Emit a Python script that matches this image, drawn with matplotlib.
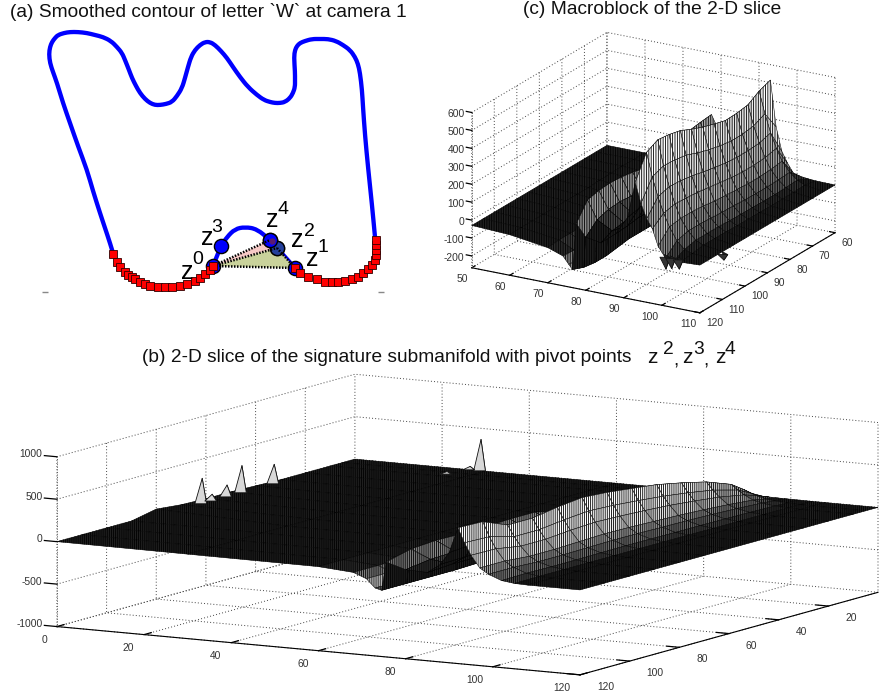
import matplotlib
matplotlib.use("Agg")
import matplotlib.pyplot as plt
import numpy as np
from matplotlib.path import Path as MplPath
from matplotlib.patches import PathPatch
from mpl_toolkits.mplot3d.art3d import Poly3DCollection

FIG_W, FIG_H = 892, 694
plt.rcParams["font.family"] = ["Liberation Sans", "DejaVu Sans"]
plt.rcParams["axes.unicode_minus"] = False
plt.rcParams["hatch.linewidth"] = 0.6
plt.rcParams["hatch.color"] = "#000000"

# panel (a): contour read in reference pixels
contour_x = [113, 110, 105, 100, 93, 87, 78, 70, 63, 57, 53, 50, 49, 50, 52, 55, 58, 64, 70, 78, 87, 95, 103, 111, 117, 122, 125, 129, 132, 136, 140, 145, 150, 155, 160, 166, 172, 177, 182, 185, 188, 191, 195, 200, 205, 210, 215, 221, 227, 233, 240, 248, 257, 264, 270, 275, 280, 285, 290, 293, 295, 295, 295, 294, 295, 297, 300, 305, 312, 320, 328, 336, 343, 350, 355, 358, 360, 362, 363, 365, 368, 372, 375]
contour_y = [253, 243, 228, 213, 191, 170, 146, 123, 103, 83, 72, 63, 54, 47, 42, 38, 35, 33, 32, 32, 33, 35, 37, 41, 47, 53, 60, 70, 78, 86, 93, 99, 103, 105, 105, 104, 102, 96, 88, 78, 67, 57, 50, 45, 42, 42, 45, 51, 58, 67, 77, 87, 95, 100, 102, 103, 103, 102, 98, 93, 87, 80, 72, 57, 50, 46, 43, 41, 39, 39, 39, 41, 45, 50, 57, 64, 73, 90, 107, 135, 167, 205, 237]
arc_x = [213, 217, 221, 227, 235, 245, 257, 270, 277, 295]
arc_y = [266, 256, 246, 237, 229, 227, 229, 240, 248, 268]
pivot_names = ["0", "3", "4", "2", "1"]
pivot_x = [213, 221, 270, 277, 295]
pivot_y = [266, 246, 240, 248, 268]
label_z_x = [187, 207, 272, 297, 312]
label_z_y = [272, 238, 220, 240, 259]
label_sup_x = [198, 217, 283, 309, 323]
label_sup_y = [260, 228, 209, 231, 248]
red_left_x = [113, 117, 120, 125, 128, 132, 135, 140, 145, 150, 158, 165, 172, 180, 187, 195, 200, 205, 210, 213]
red_left_y = [254, 262, 267, 272, 275, 277, 279, 282, 284, 286, 287, 287, 287, 286, 284, 281, 278, 274, 270, 266]
red_right_x = [295, 300, 308, 317, 325, 332, 338, 345, 352, 358, 363, 368, 372, 375, 376, 376, 376, 376]
red_right_y = [268, 273, 277, 279, 282, 282, 282, 281, 279, 277, 273, 269, 265, 260, 255, 250, 245, 240]
mark_x = [45, 381]
mark_y = [292, 292]

# panel (c): heights on a read grid, rows are y, columns are x
c_x = [50, 60, 70, 74, 75.5, 76.5, 77.5, 80, 84, 88, 91, 93, 94.5, 96, 97.5, 99, 101, 103, 105, 110]
c_y = [60, 65, 70, 75, 80, 85, 90, 95, 100, 105, 110, 115, 120]
c_z = [
    [-30, -30, -40, -70, -110, -160, 257, 150, 70, 105, 240, 514, 260, 130, 70, 22, 10, 5, 2, 0],
    [-30, -30, -42, -75, -120, -170, 250, 140, 65, 100, 215, 490, 370, 270, 190, 125, 70, 35, 15, 0],
    [-30, -30, -45, -80, -125, -175, 240, 130, 60, 95, 200, 450, 340, 250, 175, 115, 65, 30, 12, 0],
    [-30, -32, -48, -85, -130, -175, 225, 120, 55, 90, 195, 440, 330, 245, 170, 110, 62, 28, 12, 0],
    [-30, -34, -55, -90, -135, -180, 210, 110, 50, 90, 195, 437, 330, 245, 170, 110, 62, 28, 10, 0],
    [-30, -38, -60, -95, -140, -180, 190, 100, 45, 90, 200, 455, 340, 250, 175, 115, 65, 30, 12, 0],
    [-30, -38, -60, -100, -140, -180, 180, 95, 45, 90, 205, 475, 355, 262, 185, 120, 68, 30, 12, 0],
    [-30, -38, -60, -100, -140, -180, 195, 105, 50, 95, 215, 500, 375, 275, 195, 125, 70, 32, 12, 0],
    [-30, -38, -65, -105, -150, -190, 206, 110, 50, 95, 225, 530, 400, 290, 205, 135, 75, 35, 15, 0],
    [-30, -38, -65, -110, -155, -200, 210, 115, 55, 100, 230, 545, 410, 300, 210, 140, 78, 35, 15, 0],
    [-30, -38, -65, -110, -155, -200, 205, 110, 55, 100, 230, 553, 415, 305, 215, 140, 78, 35, 15, 0],
    [-30, -38, -65, -105, -150, -190, 190, 90, 45, 90, 200, 520, 390, 285, 200, 130, 60, 20, 5, 0],
    [-30, -40, -70, -100, -140, -165, 95, 30, 15, 85, 187, 390, 280, 200, 150, 60, 0, -10, -5, 0],
]
c_spike_x = [99.5, 101, 103, 110]
c_spike_y = [119, 119, 119, 111]
c_spike_z = [-70, -60, -55, -35]

# panel (b): heights on a read grid, rows are y, columns are x
b_x = [0, 30, 60, 68, 71, 73, 74.5, 75.5, 80, 85, 88, 90, 92, 93.5, 95, 97, 99, 102, 105, 108, 120]
b_y = [0, 5, 10, 20, 30, 40, 50, 60, 70, 80, 90, 100, 110, 120]
b_z = [
    [0, 0, 0, 0, 0, 0, 0, 0, 0, 0, 0, 0, 10, 7, 5, 3, 2, 1, 0, 0, 0],
    [0, 0, 0, 0, 0, 0, 0, 0, 0, 10, 35, 70, 120, 85, 60, 30, 18, 6, 2, 0, 0],
    [0, 0, 0, 0, 0, 0, 0, 0, 5, 15, 60, 130, 220, 160, 110, 58, 32, 12, 3, 0, 0],
    [0, 0, 0, 0, 0, 0, 0, 5, 10, 20, 80, 200, 330, 240, 165, 85, 48, 18, 5, 0, 0],
    [0, 0, 0, 0, -5, -5, -5, 20, 20, 30, 100, 240, 400, 290, 200, 105, 60, 22, 5, 0, 0],
    [10, 0, 0, -5, -10, -15, -20, 60, 40, 40, 120, 280, 460, 330, 230, 120, 68, 25, 6, 0, 0],
    [20, 0, 0, -10, -20, -40, -60, 150, 80, 50, 140, 300, 495, 360, 250, 130, 72, 25, 8, 0, 0],
    [20, 0, -5, -15, -40, -80, -120, 220, 110, 60, 160, 320, 530, 385, 265, 140, 78, 28, 8, 0, 0],
    [30, 0, -5, -25, -60, -130, -180, 220, 110, 65, 165, 330, 550, 400, 275, 145, 80, 30, 8, 0, 0],
    [60, 0, -5, -30, -80, -170, -210, 210, 105, 60, 160, 310, 518, 375, 260, 135, 75, 28, 8, 0, 0],
    [0, 0, -10, -35, -90, -190, -220, 205, 100, 60, 150, 290, 470, 340, 235, 125, 70, 25, 8, 0, 0],
    [0, -5, -10, -35, -95, -190, -220, 210, 100, 60, 150, 290, 470, 340, 235, 125, 70, 25, 8, 0, 0],
    [0, -5, -10, -40, -100, -200, -220, 190, 90, 60, 160, 320, 590, 420, 285, 150, 85, 30, 8, 0, 0],
    [0, -5, -10, -40, -100, -200, -220, 118, 50, 40, 150, 300, 600, 430, 290, 150, 85, 25, 5, 0, 0],
]
spike_x = [1, 1, 1, 1, 1, 28.5, 26, 24.7]
spike_y = [65, 61, 55, 49, 36, 1, 1, 8]
spike_z = [310, 90, 150, 330, 240, 380, 50, 40]


def px_rect(left, top, width, height):
    return [left / FIG_W, 1 - (top + height) / FIG_H, width / FIG_W, height / FIG_H]


def fig_text(fig, x, y, s, **kw):
    fig.text(x / FIG_W, 1 - y / FIG_H, s, va="center", color="#111111", **kw)


def smooth_path(xs, ys):
    # quadratic curve through the midpoints, the read points act as controls
    pts = np.column_stack([xs, ys]).astype(float)
    mids = 0.5 * (pts[1:-1] + pts[2:])
    verts = [pts[0], pts[1]]
    codes = [MplPath.MOVETO, MplPath.CURVE3]
    verts.append(mids[0])
    codes.append(MplPath.CURVE3)
    for ctrl, end in zip(pts[2:-1], mids[1:]):
        verts += [ctrl, end]
        codes += [MplPath.CURVE3, MplPath.CURVE3]
    verts += [pts[-1], pts[-1]]
    codes += [MplPath.CURVE3, MplPath.CURVE3]
    return MplPath(verts, codes)


def shade_from_slope(x, z, floor, scale):
    # light walls falling towards the viewer, dark floor, like the original shading
    x = np.asarray(x, dtype=float)
    z = np.asarray(z, dtype=float)
    fall = -(np.diff(z, axis=1) / np.diff(x))
    fall = 0.5 * (fall[:-1] + fall[1:])
    level = np.clip((fall - floor) / scale, 0, 1) ** 0.6
    grey = 0.12 + 0.88 * level
    return np.dstack([grey, grey, grey, np.ones_like(grey)])


def style_3d(ax, xticks, yticks, zticks, z_pad, z_va):
    ax.set_proj_type("ortho")
    ax.patch.set_alpha(0)
    ax.set_xticks(xticks)
    ax.set_yticks(yticks)
    ax.set_zticks(zticks)
    ax.zaxis.set_ticks_position("upper")
    # z ticks run along x as in the original, not along y
    ax.zaxis._get_tickdir = lambda pos: 0
    for axis in (ax.xaxis, ax.yaxis, ax.zaxis):
        axis.set_pane_color((1, 1, 1, 0))
        axis.pane.set_edgecolor((1, 1, 1, 0))
        info = axis._axinfo
        info["grid"].update(color="#444444", linestyle=(0, (1, 2.2)), linewidth=0.7)
        info["tick"].update(inward_factor=0.0, outward_factor=0.3, linewidth={True: 0.9, False: 0.5}, color="#333333")
        info["axisline"]["color"] = "#222222"
    ax.zaxis.line.set_color("#555555")
    ax.zaxis.line.set_linestyle(":")
    ax.zaxis.line.set_linewidth(0.7)
    ax.tick_params(labelsize=7.4, labelcolor="#333333", pad=-4)
    ax.tick_params(axis="z", pad=z_pad)
    for label in ax.get_xticklabels():
        label.set_ha("right")
    for label in ax.get_yticklabels():
        label.set_ha("left")
    for label in ax.get_zticklabels():
        label.set_ha("right")
        label.set_va(z_va)


def draw_surface(ax, x, y, z, floor, scale, hatch):
    xx, yy = np.meshgrid(x, y)
    zz = np.asarray(z, dtype=float)
    surf = ax.plot_surface(
        xx, yy, zz,
        facecolors=shade_from_slope(x, zz, floor, scale),
        rstride=1, cstride=1, shade=False,
        linewidth=0.35, edgecolor="#000000", antialiased=True, hatch=hatch,
    )
    surf.set_clip_on(False)
    return surf


def draw_spikes(ax, xs, ys, zs, base, half, colors):
    for sx, sy, sz in zip(xs, ys, zs):
        tip = (sx + 1, sy, sz)
        left = (sx, sy + half, base)
        mid = (sx + 2, sy, base)
        right = (sx, sy - half, base)
        spike = Poly3DCollection([[tip, left, mid], [tip, mid, right]], facecolors=colors,
                                 edgecolors="#111111", linewidths=0.6, zorder=5)
        spike.set_clip_on(False)
        ax.add_collection3d(spike)


def draw_panel_a(fig):
    ax = fig.add_axes(px_rect(40, 25, 352, 275))
    ax.set_xlim(40, 392)
    ax.set_ylim(300, 25)
    ax.axis("off")
    for xs, ys in [(contour_x, contour_y), (arc_x, arc_y)]:
        ax.add_patch(PathPatch(smooth_path(xs, ys), fill=False, edgecolor="#0000ff", lw=3.1, zorder=2))
    ax.fill([pivot_x[0], pivot_x[2], pivot_x[3]], [pivot_y[0], pivot_y[2], pivot_y[3]], color="#f6c9c6", lw=0, zorder=2.5)
    ax.fill([pivot_x[0], pivot_x[3], pivot_x[4]], [pivot_y[0], pivot_y[3], pivot_y[4]], color="#c9d29b", lw=0, zorder=2.5)
    ax.plot(pivot_x, pivot_y, "o", color="#0000ff", ms=10.2, mec="black", mew=1.0, zorder=3)
    # z2 is darkened by the triangle lying over it
    ax.plot(pivot_x[3], pivot_y[3], "o", color="#24409c", ms=10.2, mec="black", mew=1.0, zorder=3.1)
    ax.plot(pivot_x[2], pivot_y[2], "o", color="#0000ff", ms=10.2, mec="black", mew=1.0, zorder=3.2)
    for a, b in [(0, 2), (0, 3), (0, 4), (3, 4)]:
        ax.plot([pivot_x[a], pivot_x[b]], [pivot_y[a], pivot_y[b]], color="black", lw=1.8, ls=(0, (0.6, 0.6)), zorder=4)
    ax.plot(pivot_x[2] + 2, pivot_y[2] + 1, "o", color="#5a1a70", ms=3.5, zorder=5)
    ax.plot(red_left_x, red_left_y, "s", color="#ff0000", ms=6.3, mec="#300000", mew=0.6, zorder=7)
    ax.plot(red_right_x, red_right_y, "s", color="#ff0000", ms=6.3, mec="#300000", mew=0.6, zorder=7)
    ax.plot(mark_x, mark_y, "_", color="#888888", ms=4, mew=1.0)
    for name, zx, zy, sx, sy in zip(pivot_names, label_z_x, label_z_y, label_sup_x, label_sup_y):
        ax.text(zx, zy, "z", fontsize=18, ha="center", va="center", zorder=8)
        ax.text(sx, sy, name, fontsize=14, ha="center", va="center", zorder=8)


def draw_panel_c(fig):
    ax = fig.add_axes(px_rect(448, -22, 400, 400), projection="3d")
    ax.view_init(elev=20, azim=-60)
    ax.set_box_aspect((263, 270, 165), zoom=1.0)
    ax.set_xlim(50, 110)
    ax.set_ylim(120, 60)
    ax.set_zlim(-266, 600)
    style_3d(ax, [50, 60, 70, 80, 90, 100, 110], [60, 70, 80, 90, 100, 110, 120],
             [-200, -100, 0, 100, 200, 300, 400, 500, 600], -5, "center_baseline")
    ax.computed_zorder = False
    draw_surface(ax, c_x, c_y, c_z, 8.0, 80.0, "|||||||")
    draw_spikes(ax, c_spike_x, c_spike_y, c_spike_z, 0, 1.0, ["#333333", "#222222"])


def draw_panel_b(fig):
    ax = fig.add_axes(px_rect(298, 364, 330, 330), projection="3d")
    ax.view_init(elev=9.2, azim=-60)
    ax.set_box_aspect((604, 596, 172), zoom=840.5 / 330)
    ax.set_xlim(0, 120)
    ax.set_ylim(120, 0)
    ax.set_zlim(-1000, 1000)
    style_3d(ax, [0, 20, 40, 60, 80, 100, 120], [20, 40, 60, 80, 100, 120], [-1000, -500, 0, 500, 1000], -5.8, "baseline")
    ax.computed_zorder = False
    draw_surface(ax, b_x, b_y, b_z, 3.0, 70.0, "||||||||")
    draw_spikes(ax, spike_x, spike_y, spike_z, 15, 1.2, ["#d8d8d8", "#8a8a8a"])


def main():
    fig = plt.figure(figsize=(FIG_W / 100, FIG_H / 100), dpi=100, facecolor="white")
    draw_panel_c(fig)
    draw_panel_b(fig)
    draw_panel_a(fig)
    fig_text(fig, 10, 12, "(a) Smoothed contour of letter `W` at camera 1", fontsize=13.8, ha="left")
    fig_text(fig, 523, 9, "(c) Macroblock of the 2-D slice", fontsize=13.8, ha="left")
    fig_text(fig, 142, 358, "(b) 2-D slice of the signature submanifold with pivot points", fontsize=13.8, ha="left")
    for px, s in zip([652, 687, 720], ["z", "z", "z"]):
        fig_text(fig, px, 358, s, fontsize=15, ha="center")
    for px, s in zip([668, 699, 730], ["2", "3", "4"]):
        fig_text(fig, px, 350, s, fontsize=13.8, ha="center")
    for px in [676, 706]:
        fig_text(fig, px, 361, ",", fontsize=13.8, ha="center")
    fig.savefig("out.png", dpi=100)
    plt.close(fig)


if __name__ == "__main__":
    main()
